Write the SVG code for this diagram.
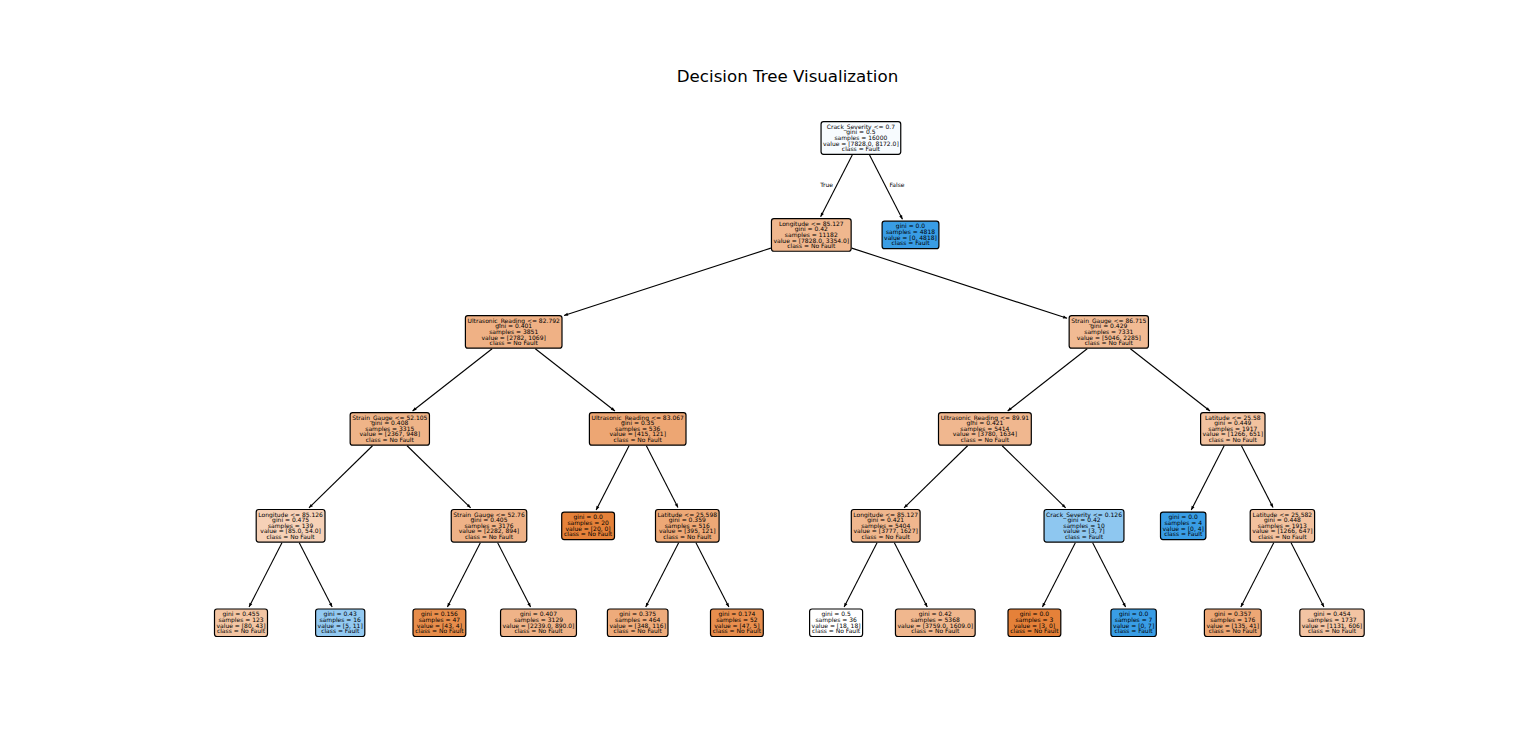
<svg xmlns="http://www.w3.org/2000/svg" width="1536" height="754" viewBox="0 0 1536 754">
<style>
.node rect{stroke:#000;stroke-width:1.2}
.node text,.lbl{font-family:"DejaVu Sans","Liberation Sans",sans-serif;font-size:6px;fill:#000;text-anchor:middle}
.edge{stroke:#000;stroke-width:1.1;fill:none;marker-end:url(#ah)}
.title{font-family:"DejaVu Sans","Liberation Sans",sans-serif;font-size:16.67px;fill:#000;text-anchor:middle}
</style>
<defs>
<marker id="ah" viewBox="-5 -3 6 6" refX="0" refY="0" markerWidth="6" markerHeight="6" markerUnits="userSpaceOnUse" orient="auto"><path d="M-4,-1.6 L0,0 L-4,1.6 Z" fill="#000"/></marker>
</defs>
<rect width="1536" height="754" fill="#fff"/>
<text class="title" x="787.5" y="82">Decision Tree Visualization</text>
<g id="connectors">
<line class="edge" x1="852.25" y1="154.9" x2="820.63" y2="216.71"/>
<line class="edge" x1="869.55" y1="154.9" x2="902.47" y2="219.26"/>
<line class="edge" x1="770.85" y1="248.13" x2="564.02" y2="315.51"/>
<line class="edge" x1="851.75" y1="248.13" x2="1067.12" y2="318.32"/>
<line class="edge" x1="492.1" y1="348.8" x2="412.57" y2="411.03"/>
<line class="edge" x1="535.3" y1="348.8" x2="614.9" y2="411.03"/>
<line class="edge" x1="1087.2" y1="348.8" x2="1007.67" y2="411.03"/>
<line class="edge" x1="1130.4" y1="348.8" x2="1210.0" y2="411.03"/>
<line class="edge" x1="372.51" y1="445.75" x2="308.96" y2="507.85"/>
<line class="edge" x1="407.09" y1="445.75" x2="470.64" y2="507.85"/>
<line class="edge" x1="629.05" y1="445.75" x2="596.13" y2="510.11"/>
<line class="edge" x1="646.35" y1="445.75" x2="677.97" y2="507.56"/>
<line class="edge" x1="967.61" y1="445.75" x2="904.06" y2="507.85"/>
<line class="edge" x1="1002.19" y1="445.75" x2="1065.66" y2="507.85"/>
<line class="edge" x1="1224.15" y1="445.75" x2="1191.23" y2="510.11"/>
<line class="edge" x1="1241.45" y1="445.75" x2="1273.07" y2="507.56"/>
<line class="edge" x1="281.95" y1="542.7" x2="249.03" y2="607.06"/>
<line class="edge" x1="299.25" y1="542.7" x2="332.17" y2="607.06"/>
<line class="edge" x1="480.35" y1="542.7" x2="447.43" y2="607.06"/>
<line class="edge" x1="497.65" y1="542.7" x2="530.57" y2="607.06"/>
<line class="edge" x1="678.65" y1="542.7" x2="645.73" y2="607.06"/>
<line class="edge" x1="695.95" y1="542.7" x2="728.87" y2="607.06"/>
<line class="edge" x1="877.05" y1="542.7" x2="844.13" y2="607.06"/>
<line class="edge" x1="894.35" y1="542.7" x2="927.27" y2="607.06"/>
<line class="edge" x1="1075.35" y1="542.7" x2="1042.43" y2="607.06"/>
<line class="edge" x1="1092.65" y1="542.7" x2="1125.57" y2="607.06"/>
<line class="edge" x1="1273.75" y1="542.7" x2="1240.83" y2="607.06"/>
<line class="edge" x1="1291.05" y1="542.7" x2="1323.97" y2="607.06"/>
<text class="lbl" x="826.5" y="187">True</text>
<text class="lbl" x="897" y="187">False</text>
</g>
<g id="n0" class="node"><rect x="821.05" y="121.7" width="79.7" height="32.6" rx="2.5" fill="#f7fbfe"/><text><tspan x="860.9" y="128.9">Crack_Severity &lt;= 0.7</tspan><tspan x="860.9" y="134.3">gini = 0.5</tspan><tspan x="860.9" y="139.7">samples = 16000</tspan><tspan x="860.9" y="145.6">value = [7828.0, 8172.0]</tspan><tspan x="860.9" y="151.1">class = Fault</tspan></text></g>
<g id="n1" class="node"><rect x="771.45" y="218.65" width="79.7" height="32.6" rx="2.5" fill="#f0b78e"/><text><tspan x="811.3" y="225.85">Longitude &lt;= 85.127</tspan><tspan x="811.3" y="231.25">gini = 0.42</tspan><tspan x="811.3" y="236.65">samples = 11182</tspan><tspan x="811.3" y="242.55">value = [7828.0, 3354.0]</tspan><tspan x="811.3" y="248.05">class = No Fault</tspan></text></g>
<g id="n2" class="node"><rect x="882.1" y="221.2" width="56.8" height="27.5" rx="2.5" fill="#399de5"/><text><tspan x="910.5" y="228.4">gini = 0.0</tspan><tspan x="910.5" y="233.8">samples = 4818</tspan><tspan x="910.5" y="239.7">value = [0, 4818]</tspan><tspan x="910.5" y="245.2">class = Fault</tspan></text></g>
<g id="n3" class="node"><rect x="465.4" y="315.6" width="96.6" height="32.6" rx="2.5" fill="#efb185"/><text><tspan x="513.7" y="322.8">Ultrasonic_Reading &lt;= 82.792</tspan><tspan x="513.7" y="328.2">gini = 0.401</tspan><tspan x="513.7" y="333.6">samples = 3851</tspan><tspan x="513.7" y="339.5">value = [2782, 1069]</tspan><tspan x="513.7" y="345.0">class = No Fault</tspan></text></g>
<g id="n4" class="node"><rect x="1069.15" y="315.6" width="79.3" height="32.6" rx="2.5" fill="#f1ba93"/><text><tspan x="1108.8" y="322.8">Strain_Gauge &lt;= 86.715</tspan><tspan x="1108.8" y="328.2">gini = 0.429</tspan><tspan x="1108.8" y="333.6">samples = 7331</tspan><tspan x="1108.8" y="339.5">value = [5046, 2285]</tspan><tspan x="1108.8" y="345.0">class = No Fault</tspan></text></g>
<g id="n5" class="node"><rect x="350.15" y="412.55" width="79.3" height="32.6" rx="2.5" fill="#efb488"/><text><tspan x="389.8" y="419.75">Strain_Gauge &lt;= 52.105</tspan><tspan x="389.8" y="425.15">gini = 0.408</tspan><tspan x="389.8" y="430.55">samples = 3315</tspan><tspan x="389.8" y="436.45">value = [2367, 948]</tspan><tspan x="389.8" y="441.95">class = No Fault</tspan></text></g>
<g id="n6" class="node"><rect x="589.4" y="412.55" width="96.6" height="32.6" rx="2.5" fill="#eda673"/><text><tspan x="637.7" y="419.75">Ultrasonic_Reading &lt;= 83.067</tspan><tspan x="637.7" y="425.15">gini = 0.35</tspan><tspan x="637.7" y="430.55">samples = 536</tspan><tspan x="637.7" y="436.45">value = [415, 121]</tspan><tspan x="637.7" y="441.95">class = No Fault</tspan></text></g>
<g id="n7" class="node"><rect x="938.5" y="412.55" width="92.8" height="32.6" rx="2.5" fill="#f0b78f"/><text><tspan x="984.9" y="419.75">Ultrasonic_Reading &lt;= 89.91</tspan><tspan x="984.9" y="425.15">gini = 0.421</tspan><tspan x="984.9" y="430.55">samples = 5414</tspan><tspan x="984.9" y="436.45">value = [3780, 1634]</tspan><tspan x="984.9" y="441.95">class = No Fault</tspan></text></g>
<g id="n8" class="node"><rect x="1200.6" y="412.55" width="64.4" height="32.6" rx="2.5" fill="#f2c29f"/><text><tspan x="1232.8" y="419.75">Latitude &lt;= 25.58</tspan><tspan x="1232.8" y="425.15">gini = 0.449</tspan><tspan x="1232.8" y="430.55">samples = 1917</tspan><tspan x="1232.8" y="436.45">value = [1266, 651]</tspan><tspan x="1232.8" y="441.95">class = No Fault</tspan></text></g>
<g id="n9" class="node"><rect x="256.2" y="509.5" width="68.8" height="32.6" rx="2.5" fill="#f6d1b7"/><text><tspan x="290.6" y="516.7">Longitude &lt;= 85.126</tspan><tspan x="290.6" y="522.1">gini = 0.475</tspan><tspan x="290.6" y="527.5">samples = 139</tspan><tspan x="290.6" y="533.4">value = [85.0, 54.0]</tspan><tspan x="290.6" y="538.9">class = No Fault</tspan></text></g>
<g id="n10" class="node"><rect x="451.25" y="509.5" width="75.5" height="32.6" rx="2.5" fill="#efb287"/><text><tspan x="489" y="516.7">Strain_Gauge &lt;= 52.76</tspan><tspan x="489" y="522.1">gini = 0.405</tspan><tspan x="489" y="527.5">samples = 3176</tspan><tspan x="489" y="533.4">value = [2282, 894]</tspan><tspan x="489" y="538.9">class = No Fault</tspan></text></g>
<g id="n11" class="node"><rect x="561.7" y="512.05" width="52.8" height="27.5" rx="2.5" fill="#e58139"/><text><tspan x="588.1" y="519.25">gini = 0.0</tspan><tspan x="588.1" y="524.65">samples = 20</tspan><tspan x="588.1" y="530.55">value = [20, 0]</tspan><tspan x="588.1" y="536.05">class = No Fault</tspan></text></g>
<g id="n12" class="node"><rect x="655.5" y="509.5" width="63.6" height="32.6" rx="2.5" fill="#eda876"/><text><tspan x="687.3" y="516.7">Latitude &lt;= 25.598</tspan><tspan x="687.3" y="522.1">gini = 0.359</tspan><tspan x="687.3" y="527.5">samples = 516</tspan><tspan x="687.3" y="533.4">value = [395, 121]</tspan><tspan x="687.3" y="538.9">class = No Fault</tspan></text></g>
<g id="n13" class="node"><rect x="851.3" y="509.5" width="68.8" height="32.6" rx="2.5" fill="#f0b78e"/><text><tspan x="885.7" y="516.7">Longitude &lt;= 85.127</tspan><tspan x="885.7" y="522.1">gini = 0.421</tspan><tspan x="885.7" y="527.5">samples = 5404</tspan><tspan x="885.7" y="533.4">value = [3777, 1627]</tspan><tspan x="885.7" y="538.9">class = No Fault</tspan></text></g>
<g id="n14" class="node"><rect x="1044.05" y="509.5" width="79.9" height="32.6" rx="2.5" fill="#8ec7f0"/><text><tspan x="1084" y="516.7">Crack_Severity &lt;= 0.126</tspan><tspan x="1084" y="522.1">gini = 0.42</tspan><tspan x="1084" y="527.5">samples = 10</tspan><tspan x="1084" y="533.4">value = [3, 7]</tspan><tspan x="1084" y="538.9">class = Fault</tspan></text></g>
<g id="n15" class="node"><rect x="1160.5" y="512.05" width="45.4" height="27.5" rx="2.5" fill="#399de5"/><text><tspan x="1183.2" y="519.25">gini = 0.0</tspan><tspan x="1183.2" y="524.65">samples = 4</tspan><tspan x="1183.2" y="530.55">value = [0, 4]</tspan><tspan x="1183.2" y="536.05">class = Fault</tspan></text></g>
<g id="n16" class="node"><rect x="1250.2" y="509.5" width="64.4" height="32.6" rx="2.5" fill="#f2c19e"/><text><tspan x="1282.4" y="516.7">Latitude &lt;= 25.582</tspan><tspan x="1282.4" y="522.1">gini = 0.448</tspan><tspan x="1282.4" y="527.5">samples = 1913</tspan><tspan x="1282.4" y="533.4">value = [1266, 647]</tspan><tspan x="1282.4" y="538.9">class = No Fault</tspan></text></g>
<g id="n17" class="node"><rect x="214.5" y="609" width="53" height="27.5" rx="2.5" fill="#f3c5a3"/><text><tspan x="241" y="616.2">gini = 0.455</tspan><tspan x="241" y="621.6">samples = 123</tspan><tspan x="241" y="627.5">value = [80, 43]</tspan><tspan x="241" y="633">class = No Fault</tspan></text></g>
<g id="n18" class="node"><rect x="315.6" y="609" width="49.2" height="27.5" rx="2.5" fill="#93c9f1"/><text><tspan x="340.2" y="616.2">gini = 0.43</tspan><tspan x="340.2" y="621.6">samples = 16</tspan><tspan x="340.2" y="627.5">value = [5, 11]</tspan><tspan x="340.2" y="633">class = Fault</tspan></text></g>
<g id="n19" class="node"><rect x="413" y="609" width="52.8" height="27.5" rx="2.5" fill="#e78d4b"/><text><tspan x="439.4" y="616.2">gini = 0.156</tspan><tspan x="439.4" y="621.6">samples = 47</tspan><tspan x="439.4" y="627.5">value = [43, 4]</tspan><tspan x="439.4" y="633">class = No Fault</tspan></text></g>
<g id="n20" class="node"><rect x="500.55" y="609" width="75.9" height="27.5" rx="2.5" fill="#efb388"/><text><tspan x="538.5" y="616.2">gini = 0.407</tspan><tspan x="538.5" y="621.6">samples = 3129</tspan><tspan x="538.5" y="627.5">value = [2239.0, 890.0]</tspan><tspan x="538.5" y="633">class = No Fault</tspan></text></g>
<g id="n21" class="node"><rect x="607.4" y="609" width="60.6" height="27.5" rx="2.5" fill="#eeab7b"/><text><tspan x="637.7" y="616.2">gini = 0.375</tspan><tspan x="637.7" y="621.6">samples = 464</tspan><tspan x="637.7" y="627.5">value = [348, 116]</tspan><tspan x="637.7" y="633">class = No Fault</tspan></text></g>
<g id="n22" class="node"><rect x="710.5" y="609" width="52.8" height="27.5" rx="2.5" fill="#e88e4e"/><text><tspan x="736.9" y="616.2">gini = 0.174</tspan><tspan x="736.9" y="621.6">samples = 52</tspan><tspan x="736.9" y="627.5">value = [47, 5]</tspan><tspan x="736.9" y="633">class = No Fault</tspan></text></g>
<g id="n23" class="node"><rect x="809.6" y="609" width="53" height="27.5" rx="2.5" fill="#ffffff"/><text><tspan x="836.1" y="616.2">gini = 0.5</tspan><tspan x="836.1" y="621.6">samples = 36</tspan><tspan x="836.1" y="627.5">value = [18, 18]</tspan><tspan x="836.1" y="633">class = No Fault</tspan></text></g>
<g id="n24" class="node"><rect x="895.45" y="609" width="79.7" height="27.5" rx="2.5" fill="#f0b78e"/><text><tspan x="935.3" y="616.2">gini = 0.42</tspan><tspan x="935.3" y="621.6">samples = 5368</tspan><tspan x="935.3" y="627.5">value = [3759.0, 1609.0]</tspan><tspan x="935.3" y="633">class = No Fault</tspan></text></g>
<g id="n25" class="node"><rect x="1008" y="609" width="52.8" height="27.5" rx="2.5" fill="#e58139"/><text><tspan x="1034.4" y="616.2">gini = 0.0</tspan><tspan x="1034.4" y="621.6">samples = 3</tspan><tspan x="1034.4" y="627.5">value = [3, 0]</tspan><tspan x="1034.4" y="633">class = No Fault</tspan></text></g>
<g id="n26" class="node"><rect x="1110.9" y="609" width="45.4" height="27.5" rx="2.5" fill="#399de5"/><text><tspan x="1133.6" y="616.2">gini = 0.0</tspan><tspan x="1133.6" y="621.6">samples = 7</tspan><tspan x="1133.6" y="627.5">value = [0, 7]</tspan><tspan x="1133.6" y="633">class = Fault</tspan></text></g>
<g id="n27" class="node"><rect x="1204.4" y="609" width="56.8" height="27.5" rx="2.5" fill="#eda775"/><text><tspan x="1232.8" y="616.2">gini = 0.357</tspan><tspan x="1232.8" y="621.6">samples = 176</tspan><tspan x="1232.8" y="627.5">value = [135, 41]</tspan><tspan x="1232.8" y="633">class = No Fault</tspan></text></g>
<g id="n28" class="node"><rect x="1299.8" y="609" width="64.4" height="27.5" rx="2.5" fill="#f3c4a3"/><text><tspan x="1332" y="616.2">gini = 0.454</tspan><tspan x="1332" y="621.6">samples = 1737</tspan><tspan x="1332" y="627.5">value = [1131, 606]</tspan><tspan x="1332" y="633">class = No Fault</tspan></text></g>
</svg>
